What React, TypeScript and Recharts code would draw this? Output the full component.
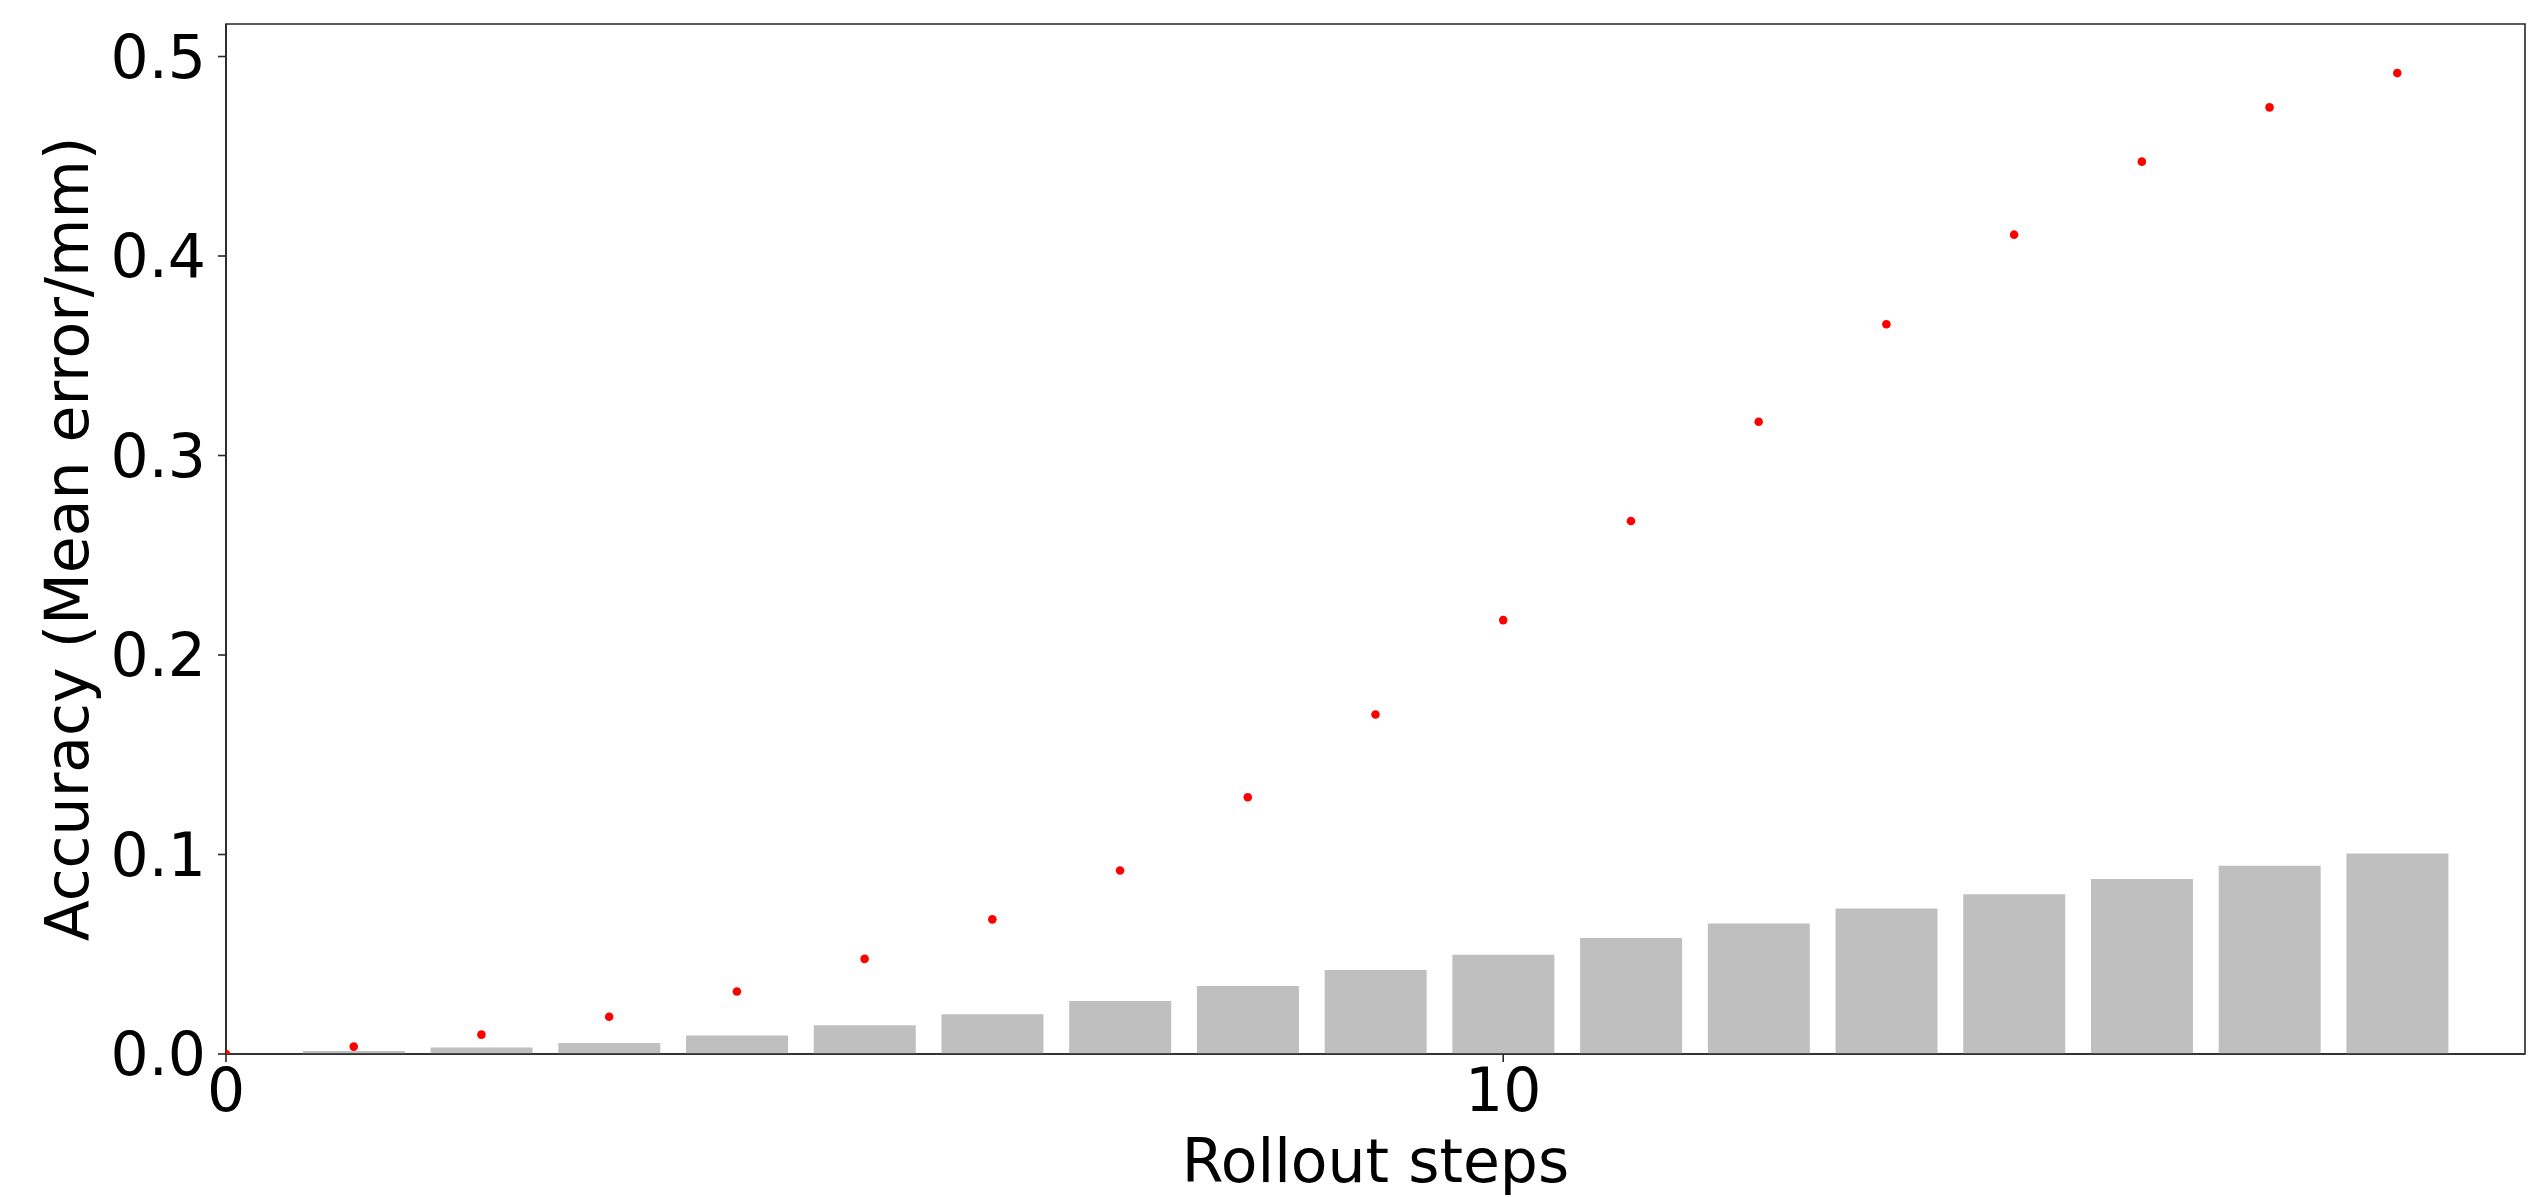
import {
  Bar,
  ComposedChart,
  Label,
  ReferenceArea,
  Scatter,
  XAxis,
  YAxis
} from "recharts";

// rollout step index (x) and the two measured series
const steps = [0, 1, 2, 3, 4, 5, 6, 7, 8, 9, 10, 11, 12, 13, 14, 15, 16, 17];
const pointError = [
  0, 0.0037, 0.0097, 0.0187, 0.0313, 0.0477, 0.0675, 0.092, 0.1287, 0.1702,
  0.2175, 0.2672, 0.3169, 0.3658, 0.4107, 0.4473, 0.4745, 0.4917
];
const barError = [
  null, 0.0015, 0.0032, 0.0055, 0.0093, 0.0144, 0.0199, 0.0266, 0.0341, 0.0421,
  0.0497, 0.0581, 0.0654, 0.0729, 0.0801, 0.0877, 0.0943, 0.1005
];
const xTicks = [0, 10];
const yTicks = [0, 0.1, 0.2, 0.3, 0.4, 0.5];

const data = steps.map((step, i) => ({
  step,
  point: pointError[i],
  bar: barError[i]
}));

const FONT = "DejaVu Sans";
const WIDTH = 2547;
const HEIGHT = 1197;
const X_MAX = 18;
const Y_MAX = 0.5163;
const AXIS_COLOR = "#262626";

const tickStyle = { fontSize: 60, fill: "#000", fontFamily: FONT };

function Dot(props: any) {
  if (props.cx == null || props.cy == null) return null;
  return <circle cx={props.cx} cy={props.cy} r={4.3} fill="#ff0000" />;
}

function YTitle({ viewBox }: any) {
  const x = viewBox.x + 88;
  const y = viewBox.y + viewBox.height / 2;
  return (
    <text
      x={x}
      y={y}
      transform={`rotate(-90, ${x}, ${y})`}
      textAnchor="middle"
      fontSize={60}
      fontFamily={FONT}
      fill="#000"
    >
      Accuracy (Mean error/mm)
    </text>
  );
}

function XTitle({ viewBox }: any) {
  const x = viewBox.x + viewBox.width / 2;
  const y = viewBox.y + 128;
  return (
    <text x={x} y={y} textAnchor="middle" fontSize={60} fontFamily={FONT} fill="#000">
      Rollout steps
    </text>
  );
}

export default function App() {
  return (
    <div style={{ position: "fixed", left: 0, top: 0, width: WIDTH, height: HEIGHT, background: "#fff" }}>
      <ComposedChart
        width={WIDTH}
        height={HEIGHT}
        data={data}
        margin={{ top: 24, right: 22, left: 0, bottom: 0 }}
      >
        <XAxis
          dataKey="step"
          type="number"
          domain={[0, X_MAX]}
          ticks={xTicks}
          allowDataOverflow
          height={143}
          tick={tickStyle}
          tickSize={8}
          tickMargin={6}
          stroke={AXIS_COLOR}
          strokeWidth={1.6}
        >
          <Label content={<XTitle />} />
        </XAxis>
        <YAxis
          type="number"
          domain={[0, Y_MAX]}
          ticks={yTicks}
          allowDataOverflow
          width={226}
          tick={tickStyle}
          tickFormatter={(v: number) => v.toFixed(1)}
          tickSize={8}
          tickMargin={12}
          stroke={AXIS_COLOR}
          strokeWidth={1.6}
        >
          <Label content={<YTitle />} />
        </YAxis>
        <Bar dataKey="bar" fill="#bfbfbf" barSize={102} isAnimationActive={false} />
        <Scatter dataKey="point" shape={<Dot />} isAnimationActive={false} />
        {/* frame around the plot area */}
        <ReferenceArea
          x1={0}
          x2={X_MAX}
          y1={0}
          y2={Y_MAX}
          fill="none"
          fillOpacity={0}
          stroke={AXIS_COLOR}
          strokeWidth={1.6}
          strokeOpacity={1}
        />
      </ComposedChart>
    </div>
  );
}
